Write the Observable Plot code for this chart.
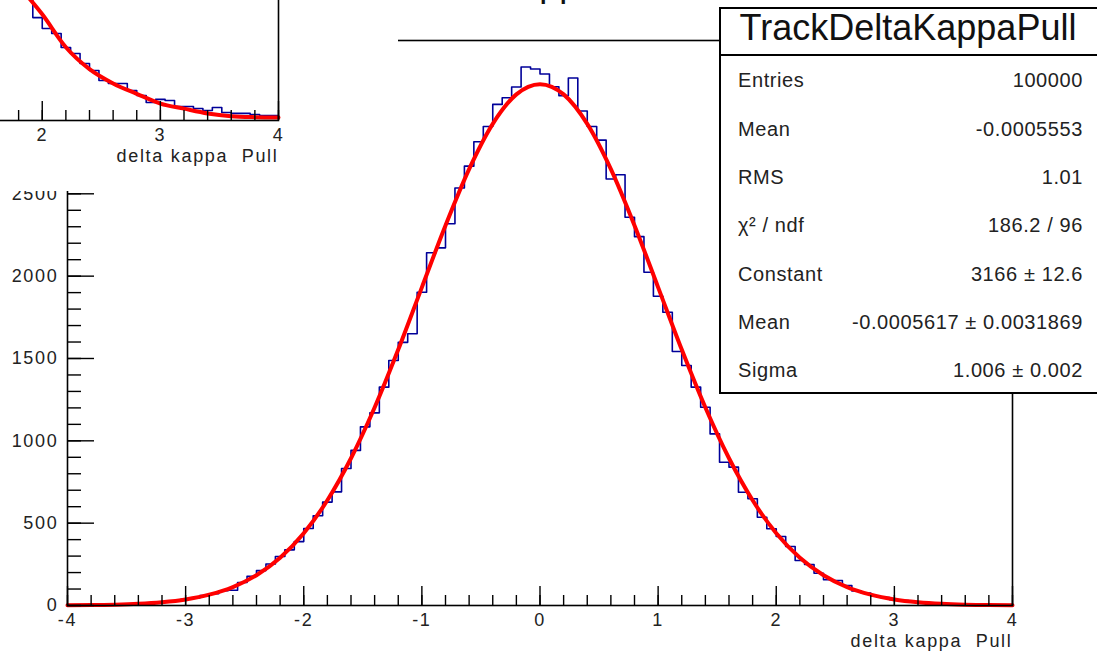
<!DOCTYPE html>
<html>
<head>
<meta charset="utf-8">
<script src="https://cdn.jsdelivr.net/npm/d3@7"></script>
<script src="https://cdn.jsdelivr.net/npm/@observablehq/plot@0.6"></script>
<style>
  html, body { margin: 0; padding: 0; background: #fff; overflow: hidden; }
  #wrap { position: relative; width: 1097px; height: 651px; overflow: hidden; background: #fff; }
  #main { position: absolute; left: 0; top: 0; }
  #inset { position: absolute; left: 0; top: 0; width: 398px; height: 191px; overflow: hidden; background: #fff; }
  #insetInner { position: absolute; left: -734px; top: -485px; }
  #over { position: absolute; left: 0; top: 0; overflow: visible; }
  #main text, #insetInner text { letter-spacing: 1.7px; }
  #over text.stat { letter-spacing: 0.6px; }
</style>
</head>
<body>
<div id="wrap">
  <div id="main"></div>
  <div id="inset"><div id="insetInner"></div></div>
</div>
<script>
// ---- histogram definition ----
const binLow = -4, binHigh = 4, nBins = 100;
const yMax = 3431;

// main histogram: bin contents, 100 bins from -4 to 4
const counts = [
  1, 1, 3, 4, 4, 7, 8, 11, 13, 17,
  24, 28, 38, 46, 60, 71, 90, 93, 140, 178,
  212, 252, 298, 338, 388, 468, 545, 628, 690, 832,
  942, 1085, 1170, 1326, 1488, 1598, 1650, 1902, 2142, 2172,
  2318, 2535, 2668, 2816, 2909, 3043, 3083, 3149, 3270, 3258,
  3228, 3150, 3096, 3203, 3003, 2909, 2826, 2590, 2616, 2358,
  2240, 2024, 1878, 1781, 1542, 1457, 1326, 1204, 1042, 870,
  840, 688, 648, 536, 466, 419, 358, 273, 249, 196,
  156, 152, 121, 88, 75, 57, 49, 35, 30, 21,
  17, 13, 11, 7, 6, 4, 3, 2, 2, 1
];

// gaussian fit curve, read at these x positions
const fitX = [-4, -3.8, -3.6, -3.4, -3.2, -3, -2.8, -2.6, -2.4, -2.2, -2, -1.8, -1.6, -1.4, -1.2, -1, -0.8, -0.6, -0.4, -0.2,
  0, 0.2, 0.4, 0.6, 0.8, 1, 1.2, 1.4, 1.6, 1.8, 2, 2.2, 2.4, 2.6, 2.8, 3, 3.2, 3.4, 3.6, 3.8, 4];
const fitY = [1, 3, 5, 10, 20, 37, 66, 112, 184, 290, 439, 639, 894, 1202, 1554, 1932, 2308, 2650, 2925, 3104,
  3166, 3104, 2925, 2650, 2308, 1932, 1554, 1202, 894, 639, 439, 290, 184, 112, 66, 37, 20, 10, 5, 3, 1];

// partially visible neighbouring pad (top-left): its visible bins start at bin 70
const insetFirstBin = 70;
const insetCounts = [980, 900, 830, 760, 625, 559, 528, 443, 407, 346,
  304, 243, 225, 225, 182, 152, 109, 128, 121, 85,
  85, 73, 61, 79, 49, 43, 43, 36, 30, 30];
const insetFitX = [1.6, 1.8, 2, 2.2, 2.4, 2.6, 2.8, 3, 3.2, 3.4, 3.6, 3.8, 4];
const insetFitY = [1010, 820, 645, 445, 312, 225, 162, 103, 72, 43, 26, 20, 18];
const insetXLabels = [2, 3, 4];

// axes
const xTicks = [-4, -3, -2, -1, 0, 1, 2, 3, 4];
const yTicks = [0, 500, 1000, 1500, 2000, 2500, 3000];
const xLabel = "delta kappa  Pull";

// statistics box
const histTitle = "TrackDeltaKappaPull";
const statLabels = ["Entries", "Mean", "RMS", "χ² / ndf", "Constant", "Mean", "Sigma"];
const statValues = ["100000", "-0.0005553", "1.01", "186.2 / 96", "3166 ± 12.6", "-0.0005617 ± 0.0031869", "1.006 ± 0.002"];

const FONT = "'Liberation Sans', Arial, Helvetica, sans-serif";

function chart(hist, firstBin, fx, fy, xLabs, yLabs) {
  const W = 1097, H = 651, mL = 67, mR = 85, mT = 40, mB = 46;
  const fw = W - mL - mR, fh = H - mT - mB;
  const bw = (binHigh - binLow) / nBins;
  const steps = hist.map((v, i) => ({x: binLow + (firstBin + i) * bw, y: v}));
  steps.push({x: binLow + (firstBin + hist.length) * bw, y: hist[hist.length - 1]});
  const fit = fx.map((x, i) => ({x, y: fy[i]}));
  const xMinor = d3.ticks(binLow, binHigh, 40);
  const yMinor = d3.range(0, yMax, 100);
  return Plot.plot({
    width: W, height: H,
    marginLeft: mL, marginRight: mR, marginTop: mT, marginBottom: mB,
    x: {domain: [binLow, binHigh], axis: null},
    y: {domain: [0, yMax], axis: null},
    style: {fontFamily: FONT, fontSize: "18px", color: "black", background: "transparent", overflow: "visible"},
    marks: [
      Plot.line(steps, {x: "x", y: "y", curve: "step-after", stroke: "#000099", strokeWidth: 1.6}),
      Plot.line(fit, {x: "x", y: "y", curve: "monotone-x", stroke: "#ff0000", strokeWidth: 4}),
      Plot.tickX(xMinor, {x: d => d, insetTop: fh - 10, stroke: "black", strokeWidth: 1.4}),
      Plot.tickX(xTicks, {x: d => d, insetTop: fh - 19, stroke: "black", strokeWidth: 1.4}),
      Plot.tickY(yMinor, {y: d => d, insetRight: fw - 14, stroke: "black", strokeWidth: 1.4}),
      Plot.tickY(yTicks, {y: d => d, insetRight: fw - 27, stroke: "black", strokeWidth: 1.4}),
      Plot.frame({stroke: "black", strokeWidth: 1.6}),
      Plot.text(xLabs, {x: d => d, text: d => String(d), frameAnchor: "bottom", lineAnchor: "top", dy: 8, fontSize: 18, fill: "#222"}),
      Plot.text(yLabs, {y: d => d, text: d => String(d), frameAnchor: "left", textAnchor: "end", dx: -9, fontSize: 18, fill: "#222"}),
      Plot.text([xLabel], {frameAnchor: "bottom-right", textAnchor: "end", lineAnchor: "bottom", dy: 41, fontSize: 18, fill: "#222"})
    ]
  });
}

document.getElementById("main").appendChild(chart(counts, 0, fitX, fitY, xTicks, yTicks));
document.getElementById("insetInner").appendChild(chart(insetCounts, insetFirstBin, insetFitX, insetFitY, insetXLabels, []));

// overlay: histogram title (clipped at top) and statistics box
const svg = d3.select("#wrap").append("svg")
  .attr("id", "over").attr("width", 1097).attr("height", 651)
  .style("font-family", FONT);

svg.append("text").attr("x", 491).attr("y", -4).attr("text-anchor", "middle")
  .attr("font-size", 36).attr("fill", "#111").text(histTitle);

const bx = 720, by = 8, bh = 385;
svg.append("rect").attr("x", bx).attr("y", by).attr("width", 390).attr("height", bh)
  .attr("fill", "white").attr("stroke", "black").attr("stroke-width", 2);
svg.append("line").attr("x1", bx).attr("x2", 1110).attr("y1", 55).attr("y2", 55)
  .attr("stroke", "black").attr("stroke-width", 2);
svg.append("text").attr("x", 908).attr("y", 40).attr("text-anchor", "middle")
  .attr("font-size", 36).attr("fill", "#111").text(histTitle);

const rowBase = [87, 136, 184, 232, 281, 329, 377];
statLabels.forEach((lab, i) => {
  svg.append("text").attr("class", "stat").attr("x", 738).attr("y", rowBase[i])
    .attr("font-size", 20).attr("fill", "#222").text(lab);
  svg.append("text").attr("class", "stat").attr("x", 1083).attr("y", rowBase[i])
    .attr("text-anchor", "end").attr("font-size", 20).attr("fill", "#222").text(statValues[i]);
});
</script>
</body>
</html>
